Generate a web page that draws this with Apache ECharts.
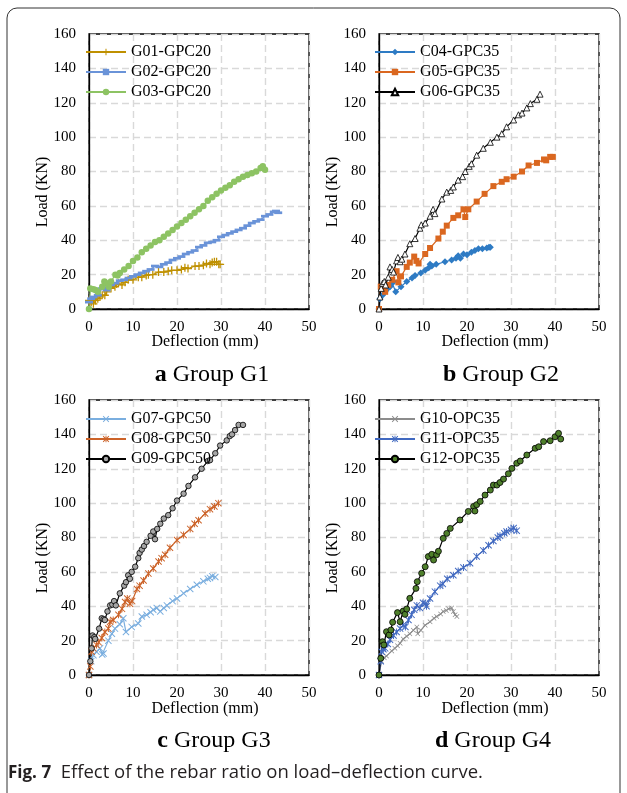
<!DOCTYPE html>
<html><head><meta charset="utf-8">
<script src="https://cdn.jsdelivr.net/npm/echarts@6/dist/echarts.min.js"></script>
<style>html,body{margin:0;padding:0;background:#fff}#c{width:627px;height:793px}</style>
</head><body><div id="c"></div>
<script>
// ---------- data (deflection mm, load kN) ----------
const xTicks = [0, 10, 20, 30, 40, 50];
const yTicks = [0, 20, 40, 60, 80, 100, 120, 140, 160];

const g01 = [[0,5],[0.5,4],[1,3],[1.5,5],[2,6],[2.5,7],[3,8],[3.6,8],[4,10],[5,12],[5.9,13],[6.3,14.5],[6.7,15],[7.5,14],[8.2,15.5],[8.9,17],[10,17],[11.2,18.5],[12,18.5],[13,19.5],[13.5,20],[14.5,20],[15.8,21.5],[17,21.5],[18,22],[18.8,22.5],[20,22.5],[21,23],[21.8,24],[22.5,23.5],[24.1,25],[25,25],[26,25.5],[26.7,26.5],[27.5,26],[28,27],[28.5,27.5],[29,27.5],[29.5,26],[29.8,26]];
const g02 = [[0,4],[0.5,6],[1,7],[2,8],[3,12],[3.5,12.5],[4,11],[5,14],[6,15],[7,16.5],[8,17],[9,18],[10,19],[11,20],[12,21],[13,22],[14,23],[15,25],[16,24.5],[17,26],[18,27],[19,28.5],[20,29.5],[21,30.5],[22,32],[23,33],[24,34],[25,36],[26,37],[27,38.5],[28,39],[29,40],[30,42],[31,43],[32,44],[33,45],[34,46],[35,47],[36,48.5],[37,50],[38,51],[39,52],[40,54],[41,55],[42,56.5],[42.5,57],[43,56]];
const g03 = [[0,0],[0.3,12],[1,11.5],[1.5,11],[2,10],[3,13],[3.5,16],[4,15],[4.5,13],[5,16],[6,20],[6.5,19.5],[7,21],[8,23],[9,25],[10,28],[11,30],[12,33],[13,35],[14,37],[15,39],[16,40],[17,42],[18,44],[19,46],[20,48],[21,50],[22,52],[23,54],[24,56],[25,58],[26,60],[27,63],[28,65],[29,67],[30,69],[31,70.5],[32,72],[33,74],[34,75.5],[35,77],[36,78],[37,79],[38,80],[39,82],[39.5,83],[40,81]];

const c04 = [[0,0],[0.2,6],[0.8,8],[1.4,10],[2,12],[2.5,13],[3,15],[3.3,16],[3.8,10],[5,13],[6.3,16],[7.5,18],[8.2,19.5],[9.5,21],[10.5,22.5],[11.3,24],[11.6,26],[12,25],[13,26],[15,27.5],[16.5,28.5],[17.5,29.5],[18,31],[18.5,29.5],[19.2,32],[20,31.5],[21,33],[21.8,34],[22.6,35],[23.5,35],[24.5,35.5],[25,36],[25.3,36]];
const g05 = [[0,0],[0.4,13],[1,12],[1.4,10],[2.1,14],[3,17],[4,22],[4.4,15.5],[5,19],[6.3,24.5],[7,27],[8,30.5],[8.5,28],[9,26.5],[10.5,32],[11.6,35.5],[13.5,41],[14.5,45],[15.4,48.5],[16.9,53],[18,54.5],[19.2,58],[19.6,53.5],[20.3,58],[22.2,62.5],[24,67],[26,71.5],[27.9,74],[29,75.5],[30.6,77],[32.5,80],[34,83.5],[35.9,85],[37.5,87],[38,86.5],[38.9,88.5],[39.5,88.5]];
const g06 = [[0,0],[0.2,7],[0.5,12],[0.8,15],[1.2,16],[1.5,14],[2.1,18.5],[2.5,24.5],[3,23],[3.3,21.5],[4,28],[4.3,30],[4.8,27.5],[5.2,29],[5.9,32],[7,38],[8.2,41],[9.3,47],[9.6,49],[10.5,50],[11.6,54],[12.3,58],[12.7,55.5],[14.3,64],[15.4,68],[16.3,69],[16.9,71],[18,75],[19,77],[19.6,80],[20.5,83],[21,84.5],[22.2,89.5],[23.7,93.5],[25.3,97],[26.8,100],[27.9,102],[29,106],[30.6,110],[31.7,113],[32.5,114],[33.6,117],[34.4,119.5],[35.9,122],[36.6,125]];

const g07 = [[0,0],[0.5,8],[1,11.5],[1.7,13.5],[2.5,15.5],[3,12],[3.3,12.5],[4.4,20],[5.2,24],[5.9,27],[7,29.5],[7.8,33],[8.4,25],[9.7,28],[11.2,30],[12,34],[13.1,35],[14,36.5],[14.6,38],[15.4,39],[16.2,37],[17,39],[17.7,40.5],[19,43],[20,44.5],[21.5,47.5],[23,50],[24.5,52.5],[26,54.5],[27,56],[27.5,56.5],[28,57.5],[28.7,57]];
const g08 = [[0,0],[0.3,5],[0.6,13.5],[1,15.5],[1.7,17.5],[2.2,19],[2.9,21.5],[3.6,25],[4.4,27],[4.8,31],[5.5,32],[6.7,35],[7.5,38.5],[8.2,42.5],[8.7,44.5],[9.3,41.5],[9.8,43],[10.9,50],[11.5,52],[12.4,55],[13.5,59],[14.6,62],[15.8,66],[16.5,68],[17.3,70],[18.4,74],[20,78.5],[21.5,81.5],[23,85],[24,88],[24.9,90],[26.4,94],[27.5,96.5],[28.5,98],[29.4,100]];
const g09 = [[0,0],[0.3,8],[0.6,15.5],[0.8,23],[1.2,22],[1.4,21],[2.3,27],[2.9,33],[3.3,32.5],[3.6,32],[4.2,37],[4.8,40.5],[5.3,41],[5.7,43],[6.1,40.5],[7,47.5],[8,52],[8.4,54],[8.9,58],[9.3,56],[9.7,60],[10.5,63],[11.2,68],[11.5,71],[12,73],[12.5,75],[13.1,77.5],[14,81],[14.6,83.5],[15,79],[15.5,85],[16.2,88],[17,91],[18,93],[19,97],[20,101.5],[21.5,105.5],[22.6,110],[24.1,115],[25.6,120],[27,124.5],[27.5,125],[28.7,129],[29.8,133.5],[31.3,136.5],[32,139],[32.5,140],[33.2,142.5],[34,145.5],[35,145.5]];

const g10 = [[0,0],[0.6,8],[1.2,10],[1.7,11],[2.9,14],[3.6,15.5],[4.2,17],[4.8,18.5],[5.5,21],[6.3,22.5],[7,24],[7.8,26],[8.6,28],[8.8,24],[9.5,26],[10.5,29],[11.6,31],[12.5,33],[13.1,34],[14,35.5],[14.6,37],[15.3,37.5],[15.8,38.5],[16.5,39],[16.9,37],[17.3,35],[17.7,34]];
const g11 = [[0,0],[0.4,8],[0.6,13.5],[1,15],[1.4,15.5],[2,18],[2.5,20.5],[3.3,23],[4,25],[4.8,27],[5.5,29],[6,28],[6.7,32],[7.4,35],[8,38],[8.6,40.5],[9.3,39],[10,42],[10.5,41.5],[10.8,40],[11.6,44.5],[12.7,48.5],[13.9,52],[14.5,53],[15.5,56],[16.9,58],[18,60.5],[19.2,62.5],[20.7,65],[22.2,69],[23.7,72.5],[24.9,75.5],[26,78],[27,80],[27.5,81],[28.5,82.5],[29,83.5],[30,84.5],[30.6,85.5],[31.3,84]];
const g12 = [[0,0],[0.4,9.7],[0.8,19.4],[1.1,17.5],[1.7,25.2],[2.3,23.3],[2.7,26.2],[3.1,30.7],[4.2,36.3],[4.8,31],[5.5,37.2],[5.9,35.3],[6.3,38.4],[7,44.6],[8.4,50.4],[8.7,54.3],[9.7,59.2],[10.5,63],[11.2,68.9],[12,70.2],[12.4,66.9],[13.1,70],[13.5,72],[14.6,79.5],[15.4,82.4],[16.2,85.3],[18.4,90.2],[20.3,95.2],[21.5,98.1],[21.8,95.4],[22.2,99.1],[23,101],[24.1,104.7],[25.3,107.6],[26,110.5],[26.8,110.5],[27.5,112],[28.3,114],[29.4,117.1],[30.2,120.2],[31.3,123.2],[32.1,124.5],[33.6,128],[35.5,131.9],[36.3,132.8],[37.4,135.8],[38.9,136.3],[40,138.6],[40.8,140.6],[41.3,137.3]];

const panelTitles = [['a', ' Group G1'], ['b', ' Group G2'], ['c', ' Group G3'], ['d', ' Group G4']];
const xName = 'Deflection (mm)';
const yName = 'Load (KN)';
const caption = ['Fig. 7', '  Effect of the rebar ratio on load\u2013deflection curve.'];

// ---------- styling ----------
const SERIF = '"Liberation Serif", "Times New Roman", serif';
const SANS = '"Open Sans", "Noto Sans", sans-serif';
const SYM = {
  plus: 'path://M4.2,0H5.8V4.2H10V5.8H5.8V10H4.2V5.8H0V4.2H4.2Z',
  dash: 'path://M0,0H10V3.4H0Z',
  cross: 'path://M0,1L1,0L10,9L9,10Z M9,0L10,1L1,10L0,9Z',
  star: 'path://M0,1L1,0L10,9L9,10Z M9,0L10,1L1,10L0,9Z M4.3,0L5.7,0L5.7,10L4.3,10Z'
};
const grids = [
  {left: 89, top: 34, width: 220, height: 275},
  {left: 379, top: 34, width: 220, height: 275},
  {left: 89, top: 400, width: 220, height: 275},
  {left: 379, top: 400, width: 220, height: 275}
];
const seriesDefs = [
  {name: 'G01-GPC20', data: g01, g: 0, color: '#BF9000', symbol: SYM.plus, size: 8},
  {name: 'G02-GPC20', data: g02, g: 0, color: '#6A93D8', symbol: SYM.dash, size: 8, keep: true},
  {name: 'G03-GPC20', data: g03, g: 0, color: '#8DC363', symbol: 'circle', size: 6.5},
  {name: 'C04-GPC35', data: c04, g: 1, color: '#2E7BC4', symbol: 'diamond', size: 7},
  {name: 'G05-GPC35', data: g05, g: 1, color: '#DA6720', symbol: 'rect', size: 6},
  {name: 'G06-GPC35', data: g06, g: 1, color: '#000000', symbol: 'triangle', size: 6, fill: '#ffffff', border: '#000000'},
  {name: 'G07-GPC50', data: g07, g: 2, color: '#7AAEDF', symbol: SYM.cross, size: 7},
  {name: 'G08-GPC50', data: g08, g: 2, color: '#CC6329', symbol: SYM.star, size: 7},
  {name: 'G09-GPC50', data: g09, g: 2, color: '#000000', symbol: 'circle', size: 5.5, fill: '#A6A6A6', border: '#000000'},
  {name: 'G10-OPC35', data: g10, g: 3, color: '#8C8C8C', symbol: SYM.cross, size: 5},
  {name: 'G11-OPC35', data: g11, g: 3, color: '#4169C0', symbol: SYM.star, size: 7},
  {name: 'G12-OPC35', data: g12, g: 3, color: '#000000', symbol: 'circle', size: 6, fill: '#4E7F2B', border: '#000000'}
];

const xAxes = grids.map((g, i) => ({
  type: 'value', gridIndex: i, min: xTicks[0], max: xTicks[xTicks.length - 1], interval: xTicks[1] - xTicks[0],
  axisLine: {show: true, lineStyle: {color: '#000', width: 1.3}},
  axisTick: {show: false},
  axisLabel: {color: '#000', fontFamily: SERIF, fontSize: 15, margin: 11},
  splitLine: {show: true, lineStyle: {color: '#D9D9D9', width: 1.4, type: [7, 4]}}
}));
const yAxes = grids.map((g, i) => ({
  type: 'value', gridIndex: i, min: yTicks[0], max: yTicks[yTicks.length - 1], interval: yTicks[1] - yTicks[0],
  axisLine: {show: true, lineStyle: {color: '#000', width: 1.3}},
  axisTick: {show: false},
  axisLabel: {color: '#000', fontFamily: SERIF, fontSize: 15, margin: 13},
  splitLine: {show: true, lineStyle: {color: '#D9D9D9', width: 1.4, type: [7, 4]}}
}));

const series = seriesDefs.map(s => ({
  type: 'line', name: s.name, data: s.data, xAxisIndex: s.g, yAxisIndex: s.g,
  symbol: s.symbol, symbolSize: s.size, symbolKeepAspect: !!s.keep, showSymbol: true, showAllSymbol: true,
  lineStyle: {color: s.color, width: 1.2},
  itemStyle: {color: s.fill || s.color, borderColor: s.border || s.color, borderWidth: s.border ? 0.8 : 0},
  emphasis: {disabled: true}, animation: false
}));

const legendPos = [[85, 44], [374, 44], [85, 411], [374, 411]];
const legends = grids.map((g, i) => ({
  orient: 'vertical', left: legendPos[i][0], top: legendPos[i][1],
  itemWidth: 40, itemHeight: 8, itemGap: 4, padding: 0,
  data: seriesDefs.filter(s => s.g === i).map(s => s.name),
  textStyle: {color: '#000', fontFamily: SERIF, fontSize: 16, lineHeight: 14},
  selectedMode: false
}));

const graphics = [];
const yNamePos = [[43, 192], [333, 192], [43, 558], [333, 558]];
const xNamePos = [[205, 342], [495, 342], [205, 709], [495, 709]];
const titlePos = [[212, 375], [501, 375], [214, 741], [493, 741]];
for (let i = 0; i < 4; i++) {
  graphics.push({type: 'text', x: yNamePos[i][0], y: yNamePos[i][1], rotation: Math.PI / 2,
    style: {text: yName, fill: '#000', font: '16px ' + SERIF, align: 'center', verticalAlign: 'middle'}});
  graphics.push({type: 'text', x: xNamePos[i][0], y: xNamePos[i][1],
    style: {text: xName, fill: '#000', font: '16px ' + SERIF, align: 'center', verticalAlign: 'middle'}});
  graphics.push({type: 'text', x: titlePos[i][0], y: titlePos[i][1],
    style: {text: '{b|' + panelTitles[i][0] + '}{n|' + panelTitles[i][1] + '}', align: 'center', verticalAlign: 'middle',
      rich: {b: {fontFamily: SERIF, fontSize: 24, fontWeight: 'bold', fill: '#000'}, n: {fontFamily: SERIF, fontSize: 24, fill: '#000'}}}});
}
graphics.push({type: 'text', x: 8, y: 773,
  style: {text: '{b|' + caption[0] + '}{n|' + caption[1] + '}', verticalAlign: 'middle',
    rich: {b: {fontFamily: SANS, fontSize: 17, fontWeight: 'bold', fill: '#231F20'},
           n: {fontFamily: SANS, fontSize: 18.5, fill: '#231F20'}}}});
graphics.push({type: 'rect', shape: {x: 7, y: 8, width: 613, height: 800, r: [10, 10, 0, 0]},
  style: {fill: null, stroke: '#333', lineWidth: 1}});

const chart = echarts.init(document.getElementById('c'), null, {renderer: 'canvas'});
chart.setOption({
  animation: false,
  backgroundColor: '#fff',
  grid: grids.map(g => Object.assign({show: true, borderColor: '#000', borderWidth: 1.3, backgroundColor: 'transparent', containLabel: false}, g)),
  xAxis: xAxes, yAxis: yAxes,
  legend: legends,
  series: series,
  graphic: graphics
});
</script></body></html>
